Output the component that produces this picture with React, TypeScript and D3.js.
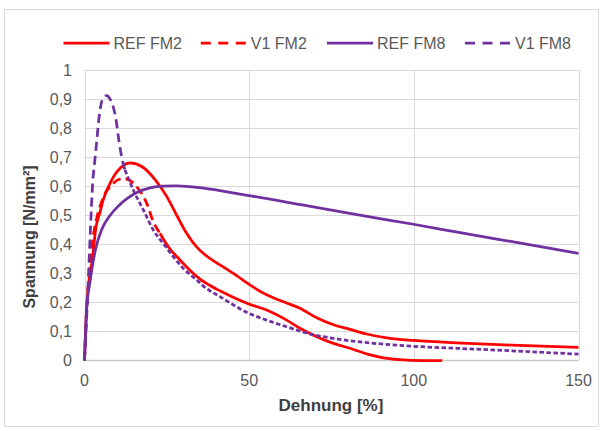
import * as d3 from 'd3';
import React from 'react';

// Dehnung [%] / Spannung [N/mm²]
const refFM2X = [0, 0.6, 1.5, 2.3, 3.5, 4.7, 5.6, 8.2, 11.6, 13.8, 17.5, 21.9, 25, 28, 31, 34.1, 38, 41, 46.2, 50, 55.3, 60.4, 65.4, 70.5, 75.6, 80.6, 85.3, 92.3, 99.9, 114.5, 132, 150];
const refFM2Y = [0, 0.17, 0.29, 0.34, 0.46, 0.51, 0.55, 0.62, 0.67, 0.68, 0.667, 0.616, 0.564, 0.5, 0.438, 0.39, 0.352, 0.33, 0.292, 0.262, 0.226, 0.202, 0.18, 0.147, 0.123, 0.107, 0.092, 0.077, 0.069, 0.06, 0.052, 0.045];

const v1FM2X = [0, 0.6, 1.5, 2.5, 3.5, 5, 5.8, 8.2, 11.8, 15.9, 18.9, 20.9, 22.9, 25.4, 29, 33, 35.1, 38.1, 41.1, 50, 55.3, 61.4, 65.4, 70.5, 75.6, 80.6, 85.9, 90, 95.8, 102.8, 108.6];
const v1FM2Y = [0, 0.17, 0.3, 0.414, 0.48, 0.54, 0.564, 0.604, 0.627, 0.598, 0.541, 0.478, 0.438, 0.392, 0.346, 0.3, 0.28, 0.258, 0.24, 0.194, 0.174, 0.139, 0.111, 0.082, 0.059, 0.042, 0.022, 0.011, 0.003, 0, 0];

const refFM8X = [0, 0.6, 1.8, 3.3, 5.2, 7.8, 10.3, 13, 15.9, 19.9, 23.9, 28, 36.1, 47.2, 67.8, 85.3, 99.9, 114.5, 132, 150];
const refFM8Y = [0, 0.17, 0.28, 0.38, 0.45, 0.5, 0.532, 0.558, 0.578, 0.594, 0.6, 0.601, 0.593, 0.573, 0.532, 0.497, 0.469, 0.439, 0.405, 0.369];

const v1FM8X = [0, 0.9, 1.75, 2.5, 3.1, 3.7, 4.4, 5.4, 6.7, 7.9, 9.5, 10.5, 11.3, 12.3, 14.8, 17.9, 20.9, 23.9, 27, 30, 34.1, 36.1, 41.1, 50, 55.3, 61.4, 67.5, 75.6, 80.6, 91.1, 100, 121, 150];
const v1FM8Y = [0, 0.21, 0.438, 0.615, 0.684, 0.753, 0.834, 0.897, 0.912, 0.897, 0.834, 0.753, 0.7, 0.656, 0.587, 0.518, 0.449, 0.403, 0.357, 0.317, 0.277, 0.256, 0.22, 0.162, 0.139, 0.116, 0.094, 0.076, 0.068, 0.056, 0.049, 0.038, 0.022];

const seriesNames = ['REF FM2', 'V1 FM2', 'REF FM8', 'V1 FM8'];
const xTicks = [0, 50, 100, 150];
const yTicks = [0, 0.1, 0.2, 0.3, 0.4, 0.5, 0.6, 0.7, 0.8, 0.9, 1];

const RED = '#ff0000';
const PURPLE = '#7030a0';

type Pt = [number, number];
const zip = (xs: number[], ys: number[]): Pt[] => xs.map((x, i) => [x, ys[i]]);

// parts: [fromX, toX, dasharray] - dense Excel dashes look solid in the tail of V1 FM2
const series = [
  { name: seriesNames[0], color: RED, data: zip(refFM2X, refFM2Y), parts: [[0, 150, '']] },
  { name: seriesNames[1], color: RED, data: zip(v1FM2X, v1FM2Y), parts: [[0, 22.9, '9,5'], [22.9, 150, '']] },
  { name: seriesNames[2], color: PURPLE, data: zip(refFM8X, refFM8Y), parts: [[0, 150, '']] },
  { name: seriesNames[3], color: PURPLE, data: zip(v1FM8X, v1FM8Y), parts: [[0, 12.3, '9,5'], [12.3, 150, '4.5,2.5']] },
];

const legendX = [63.5, 200.8, 327, 465];

export default function App() {
  const W = 603, H = 431;
  const x = d3.scaleLinear().domain([0, 150]).range([84.5, 578.5]);
  const y = d3.scaleLinear().domain([0, 1]).range([360.5, 70]);
  const line = d3.line<Pt>().x(d => x(d[0])).y(d => y(d[1])).curve(d3.curveMonotoneX);
  const fmt = (v: number) => (v === 0 || v === 1 ? String(v) : v.toFixed(1).replace('.', ','));
  const font = '"Liberation Sans", Arial, sans-serif';

  return (
    <svg width={W} height={H} style={{ position: 'absolute', left: 0, top: 0 }} fontFamily={font}>
      <rect x={0} y={0} width={W} height={H} fill="#fff" />
      <rect x={4.5} y={9.5} width={594} height={417} fill="#fff" stroke="#d9d9d9" />

      {yTicks.slice(1).map(t => (
        <line key={'gy' + t} x1={x(0)} x2={x(150)} y1={Math.round(y(t)) + 0.5} y2={Math.round(y(t)) + 0.5} stroke="#d9d9d9" strokeWidth={1} />
      ))}
      {xTicks.map(t => (
        <line key={'gx' + t} x1={Math.round(x(t)) + 0.5} x2={Math.round(x(t)) + 0.5} y1={y(1)} y2={y(0)} stroke="#d9d9d9" strokeWidth={1} />
      ))}
      <line x1={x(0)} x2={x(150)} y1={y(0)} y2={y(0)} stroke="#c8c8c8" strokeWidth={1.5} />

      {yTicks.map(t => (
        <text key={'ty' + t} x={72} y={y(t)} textAnchor="end" dominantBaseline="central" fontSize={16} fill="#595959">{fmt(t)}</text>
      ))}
      {xTicks.map(t => (
        <text key={'tx' + t} x={x(t)} y={380} textAnchor="middle" dominantBaseline="central" fontSize={16} fill="#595959">{t}</text>
      ))}

      {series.map(s =>
        s.parts.map(([a, b, dash], i) => {
          const pts = s.data.filter(d => d[0] >= (a as number) && d[0] <= (b as number));
          return (
            <path key={s.name + i} d={line(pts) || ''} fill="none" stroke={s.color} strokeWidth={2.75}
              strokeDasharray={(dash as string) || undefined} strokeLinejoin="round" />
          );
        })
      )}

      {series.map((s, i) => (
        <g key={'lg' + i}>
          <line x1={legendX[i]} x2={legendX[i] + 46} y1={43} y2={43} stroke={s.color} strokeWidth={2.75}
            strokeDasharray={i % 2 === 1 ? '10,7.5' : undefined} />
          <text x={legendX[i] + 50} y={43} dominantBaseline="central" fontSize={16} fill="#595959">{s.name}</text>
        </g>
      ))}

      <text x={331} y={405} textAnchor="middle" dominantBaseline="central" fontSize={17} fontWeight="bold" fill="#404040">Dehnung [%]</text>
      <text transform="translate(29,237) rotate(-90)" textAnchor="middle" dominantBaseline="central" fontSize={16} fontWeight="bold" fill="#404040">Spannung [N/mm²]</text>
    </svg>
  );
}
